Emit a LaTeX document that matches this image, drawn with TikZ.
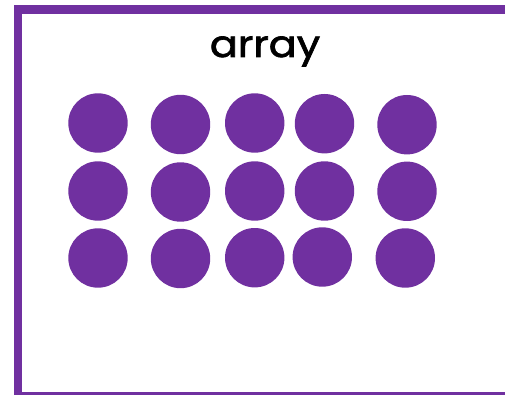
\documentclass[tikz,border=0pt]{standalone}
\usepackage{fontspec}
\newfontfamily\titlefont[FakeBold=1.8]{Poppins}
\definecolor{arraypurple}{RGB}{112,48,160}

\begin{document}
\begin{tikzpicture}[
    x=1pt, y=-1pt,
    frame/.style={draw=arraypurple, line width=8.5pt},
    dot/.style={circle, fill=arraypurple, minimum size=59.4pt, inner sep=0pt},
    heading/.style={font=\titlefont\fontsize{37}{37}\selectfont, inner sep=0pt}
]
    \useasboundingbox (0,0) rectangle (505,395);

    % outer frame, runs past the right and bottom edges
    \draw[frame] (540,9.5) -- (18,9.5) -- (18,396.5) -- (540,396.5);

    \node[heading, anchor=base] (title) at (265,57) {\scalebox{1.12}[1]{array}};

    % three rows of five dots
    \foreach \col/\x/\ya/\yb/\yc/\xc in {1/98/123/191/258/98, 2/180.5/124.5/192/258.5/180.5,
        3/254.7/123/191/257.7/254.7, 4/324.5/123.7/191/257/322.3, 5/407/124.7/191.3/258/405.3} {
        \node[dot] (d-1-\col) at (\x,\ya) {};
        \node[dot] (d-2-\col) at (\x,\yb) {};
        \node[dot] (d-3-\col) at (\xc,\yc) {};
    }
\end{tikzpicture}
\end{document}
